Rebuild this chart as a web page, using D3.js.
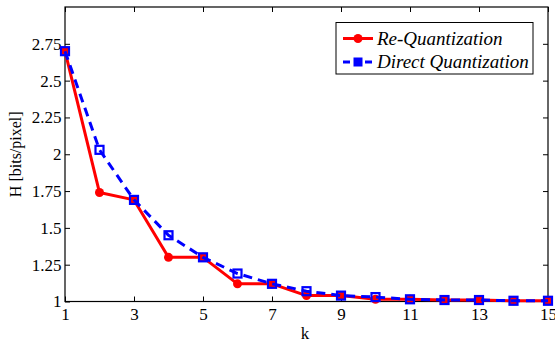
<!DOCTYPE html>
<html><head><meta charset="utf-8">
<script src="https://cdn.jsdelivr.net/npm/d3@7"></script>
<style>body{margin:0;background:#fff}svg{display:block}</style>
</head><body><svg id="c" width="555" height="342" font-family="Liberation Serif, serif"></svg>
<script>
const ks = [1,2,3,4,5,6,7,8,9,10,11,12,13,14,15];
const reQuant = [2.70,1.74,1.69,1.30,1.30,1.12,1.12,1.04,1.04,1.015,1.015,1.01,1.01,1.005,1.005];
const directQuant = [2.70,2.03,1.69,1.45,1.30,1.19,1.12,1.07,1.04,1.03,1.015,1.01,1.01,1.005,1.005];
const xTicks = [1,3,5,7,9,11,13,15];
const yTicks = [1,1.25,1.5,1.75,2,2.25,2.5,2.75];
const yTickLabels = ["1","1.25","1.5","1.75","2","2.25","2.5","2.75"];
const seriesNames = ["Re-Quantization","Direct Quantization"];

const FONT = "Liberation Serif, serif";
const svg = d3.select("#c");
const L=65, R=548, T=7, B=301.5;
const x = d3.scaleLinear().domain([1,15]).range([L,R]);
const y = d3.scaleLinear().domain([1,3]).range([B,T]);

const fs = 17;
const ax = svg.append("g").attr("transform",`translate(0,${B})`)
  .call(d3.axisBottom(x).tickValues(xTicks).tickSize(-5).tickPadding(6).tickFormat(d3.format("d")));
const ay = svg.append("g").attr("transform",`translate(${L},0)`)
  .call(d3.axisLeft(y).tickValues(yTicks).tickSize(-5).tickPadding(3.5).tickFormat((d,i)=>yTickLabels[i]));
const axT = svg.append("g").attr("transform",`translate(0,${T})`)
  .call(d3.axisTop(x).tickValues(xTicks).tickSize(-5).tickFormat(""));
const ayR = svg.append("g").attr("transform",`translate(${R},0)`)
  .call(d3.axisRight(y).tickValues(yTicks).tickSize(-5).tickFormat(""));
[ax,ay,axT,ayR].forEach(g=>{
  g.attr("font-family",FONT).attr("font-size",fs);
  g.select(".domain").remove();
  g.selectAll("line").attr("stroke","#000").attr("stroke-width",1);
  g.selectAll("text").attr("fill","#000");
});
svg.append("rect").attr("x",L).attr("y",T).attr("width",R-L).attr("height",B-T)
  .attr("fill","none").attr("stroke","#000").attr("stroke-width",1.2);

svg.append("text").attr("x",305).attr("y",339).attr("text-anchor","middle").attr("font-family",FONT).attr("font-size",fs).text("k");
svg.append("text").attr("transform",`translate(21,${(T+B)/2}) rotate(-90)`).attr("text-anchor","middle")
  .attr("font-family",FONT).attr("font-size",16).text("H [bits/pixel]");

const line = d3.line().x((d,i)=>x(ks[i])).y(d=>y(d));
svg.append("path").datum(reQuant).attr("d",line).attr("fill","none").attr("stroke","#ff0000").attr("stroke-width",3).attr("stroke-linejoin","round");
svg.selectAll(".rc").data(reQuant).enter().append("circle")
  .attr("cx",(d,i)=>x(ks[i])).attr("cy",d=>y(d)).attr("r",4.5).attr("fill","#ff0000");
svg.append("path").datum(directQuant).attr("d",line).attr("fill","none").attr("stroke","#0000ff").attr("stroke-width",3).attr("stroke-dasharray","9,6");
svg.selectAll(".bs").data(directQuant).enter().append("rect")
  .attr("x",(d,i)=>x(ks[i])-4).attr("y",d=>y(d)-4).attr("width",8).attr("height",8)
  .attr("fill","none").attr("stroke","#0000ff").attr("stroke-width",2.2);

const lg = svg.append("g");
lg.append("rect").attr("x",336).attr("y",22.5).attr("width",197).attr("height",51.5)
  .attr("fill","#fff").attr("stroke","#000").attr("stroke-width",1);
const rows=[{y:38.5,c:"#ff0000",dash:null,m:"c"},{y:62,c:"#0000ff",dash:"7,4",m:"s"}];
rows.forEach((r,i)=>{
  lg.append("line").attr("x1",343).attr("x2",373).attr("y1",r.y).attr("y2",r.y)
    .attr("stroke",r.c).attr("stroke-width",3).attr("stroke-dasharray",r.dash);
  if(r.m==="c") lg.append("circle").attr("cx",358).attr("cy",r.y).attr("r",4.5).attr("fill",r.c);
  else lg.append("rect").attr("x",354).attr("y",r.y-4).attr("width",8).attr("height",8).attr("fill",r.c).attr("stroke",r.c).attr("stroke-width",1);
  lg.append("text").attr("x",377).attr("y",r.y+6).attr("font-family",FONT).attr("font-size",19).attr("font-style","italic").text(seriesNames[i]);
});
</script></body></html>
